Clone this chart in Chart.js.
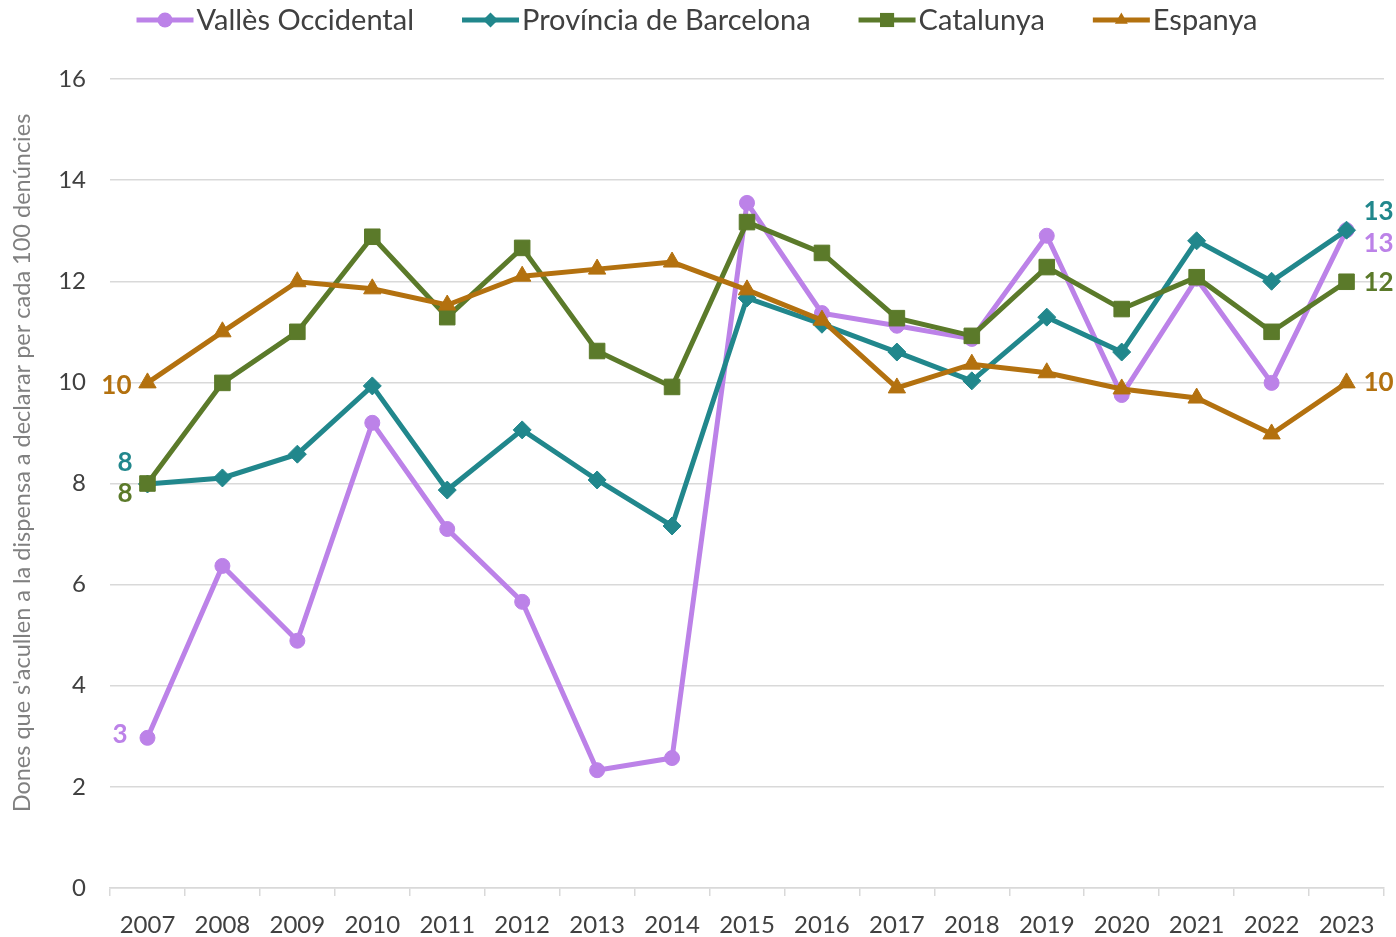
<!DOCTYPE html>
<html>
<head>
<meta charset="utf-8">
<script src="https://cdn.jsdelivr.net/npm/chart.js@4.4.0/dist/chart.umd.min.js"></script>
<style>
html,body{margin:0;padding:0;background:#fff;}
#wrap{width:1396px;height:937px;position:relative;}
</style>
</head>
<body>
<div id="wrap"><canvas id="c" width="1396" height="937"></canvas></div>
<script>
const years = ['2007','2008','2009','2010','2011','2012','2013','2014','2015','2016','2017','2018','2019','2020','2021','2022','2023'];
const seriesNames = ['Vallès Occidental','Província de Barcelona','Catalunya','Espanya'];
const valles = [2.97,6.37,4.89,9.2,7.1,5.66,2.33,2.57,13.55,11.37,11.12,10.86,12.9,9.75,12.05,9.99,13.01];
const provincia = [7.99,8.11,8.58,9.93,7.87,9.06,8.07,7.16,11.67,11.15,10.6,10.03,11.29,10.6,12.8,12.0,13.01];
const catalunya = [8.0,9.99,11.0,12.88,11.29,12.66,10.62,9.91,13.17,12.56,11.27,10.92,12.28,11.45,12.08,11.0,11.99];
const espanya = [9.99,11.0,11.99,11.85,11.53,12.1,12.24,12.38,11.83,11.23,9.89,10.36,10.19,9.87,9.69,8.98,9.99];
const yTicks = [0,2,4,6,8,10,12,14,16];
const yTitle = "Dones que s'acullen a la dispensa a declarar per cada 100 denúncies";

const colors = ['#BC82E8','#21878C','#5B7A2A','#B3710F'];
const styles = ['circle','rectRot','rect','triangle'];
const radii = [7.5,9,11,10];
// label offsets [first dx, first dy, last dx, last dy]
const labelOffsets = [
  [-20,-3, 17,13],
  [-15,-21, 17,-19],
  [-15,10, 17,1],
  [-16,3, 17,0]
];
const FONT = 'Lato, "Open Sans", sans-serif';

const allValues = [valles, provincia, catalunya, espanya];
const datasets = allValues.map((vals,i)=>({
  label: seriesNames[i],
  data: vals,
  borderColor: colors[i],
  backgroundColor: colors[i],
  pointBackgroundColor: colors[i],
  pointBorderColor: colors[i],
  pointStyle: styles[i],
  pointRadius: radii[i],
  pointHoverRadius: radii[i],
  pointBorderWidth: 1,
  borderWidth: 5,
  tension: 0,
  fill: false,
  order: 4 - i
}));

function drawMarker(ctx, style, r, x, y, color){
  ctx.save();
  ctx.fillStyle = color;
  ctx.beginPath();
  if (style === 'circle') {
    ctx.arc(x, y, r, 0, Math.PI*2);
  } else if (style === 'rectRot') {
    ctx.moveTo(x - r, y); ctx.lineTo(x, y - r); ctx.lineTo(x + r, y); ctx.lineTo(x, y + r);
  } else if (style === 'rect') {
    const s = Math.SQRT1_2 * r;
    ctx.rect(x - s, y - s, 2*s, 2*s);
  } else if (style === 'triangle') {
    ctx.moveTo(x, y - r);
    ctx.lineTo(x + r*0.866, y + r*0.5);
    ctx.lineTo(x - r*0.866, y + r*0.5);
  }
  ctx.closePath();
  ctx.fill();
  ctx.restore();
}

const customLegend = {
  id: 'customLegend',
  afterDraw(chart){
    const ctx = chart.ctx;
    ctx.save();
    ctx.font = '29px ' + FONT;
    ctx.textBaseline = 'middle';
    const lineLen = 57, gapText = 3, gapItem = 48, yC = 20;
    const widths = seriesNames.map(n => ctx.measureText(n).width);
    let total = widths.reduce((a,b)=>a+b,0) + seriesNames.length*(lineLen+gapText) + (seriesNames.length-1)*gapItem;
    let x = 697 - total/2;
    seriesNames.forEach((n,i)=>{
      ctx.strokeStyle = colors[i];
      ctx.lineWidth = 5;
      ctx.beginPath();
      ctx.moveTo(x, yC); ctx.lineTo(x+lineLen, yC); ctx.stroke();
      drawMarker(ctx, styles[i], styles[i]==='rect'?10:7.5, x+lineLen/2, yC, colors[i]);
      ctx.fillStyle = '#404040';
      ctx.textAlign = 'left';
      ctx.fillText(n, x+lineLen+gapText, yC+1);
      x += lineLen + gapText + widths[i] + gapItem;
    });
    ctx.restore();
  }
};

const yTitlePlugin = {
  id: 'yTitlePlugin',
  afterDraw(chart){
    const ctx = chart.ctx;
    ctx.save();
    ctx.font = '23.5px ' + FONT;
    ctx.fillStyle = '#808080';
    ctx.textAlign = 'center';
    ctx.textBaseline = 'middle';
    ctx.translate(22, 463);
    ctx.rotate(-Math.PI/2);
    ctx.fillText(yTitle, 0, 0);
    ctx.restore();
  }
};

const endLabels = {
  id: 'endLabels',
  afterDatasetsDraw(chart){
    const ctx = chart.ctx;
    ctx.save();
    ctx.font = 'bold 26px ' + FONT;
    ctx.textBaseline = 'middle';
    chart.data.datasets.forEach((ds,i)=>{
      const meta = chart.getDatasetMeta(i);
      const first = meta.data[0], last = meta.data[meta.data.length-1];
      const off = labelOffsets[i];
      ctx.fillStyle = colors[i];
      ctx.textAlign = 'right';
      ctx.fillText(String(Math.round(ds.data[0])), first.x + off[0], first.y + off[1]);
      ctx.textAlign = 'left';
      ctx.fillText(String(Math.round(ds.data[ds.data.length-1])), last.x + off[2], last.y + off[3]);
    });
    ctx.restore();
  }
};

new Chart(document.getElementById('c'), {
  type: 'line',
  data: { labels: years, datasets: datasets },
  options: {
    responsive: false,
    animation: false,
    layout: { padding: { top: 79, right: 11, bottom: 0, left: 0 } },
    plugins: {
      legend: { display: false },
      tooltip: { enabled: false },
      title: { display: false }
    },
    scales: {
      x: {
        type: 'category',
        offset: true,
        grid: { offset: true, drawOnChartArea: false, drawTicks: true, tickLength: 8, color: '#d9d9d9', lineWidth: 1.5 },
        border: { display: true, color: '#d9d9d9', width: 1.5 },
        ticks: { color: '#404040', font: { family: FONT, size: 24 }, padding: 15, maxRotation: 0, autoSkip: false },
        afterFit(s){ s.height = 49; }
      },
      y: {
        min: 0, max: 16,
        afterBuildTicks(s){ s.ticks = yTicks.map(v=>({value:v})); },
        grid: { color: '#d9d9d9', lineWidth: 1.5, drawTicks: false },
        border: { display: false },
        ticks: { color: '#404040', font: { family: FONT, size: 24 }, padding: 24 },
        afterFit(s){ s.width = 110; }
      }
    }
  },
  plugins: [customLegend, endLabels, yTitlePlugin]
});
</script>
</body>
</html>
